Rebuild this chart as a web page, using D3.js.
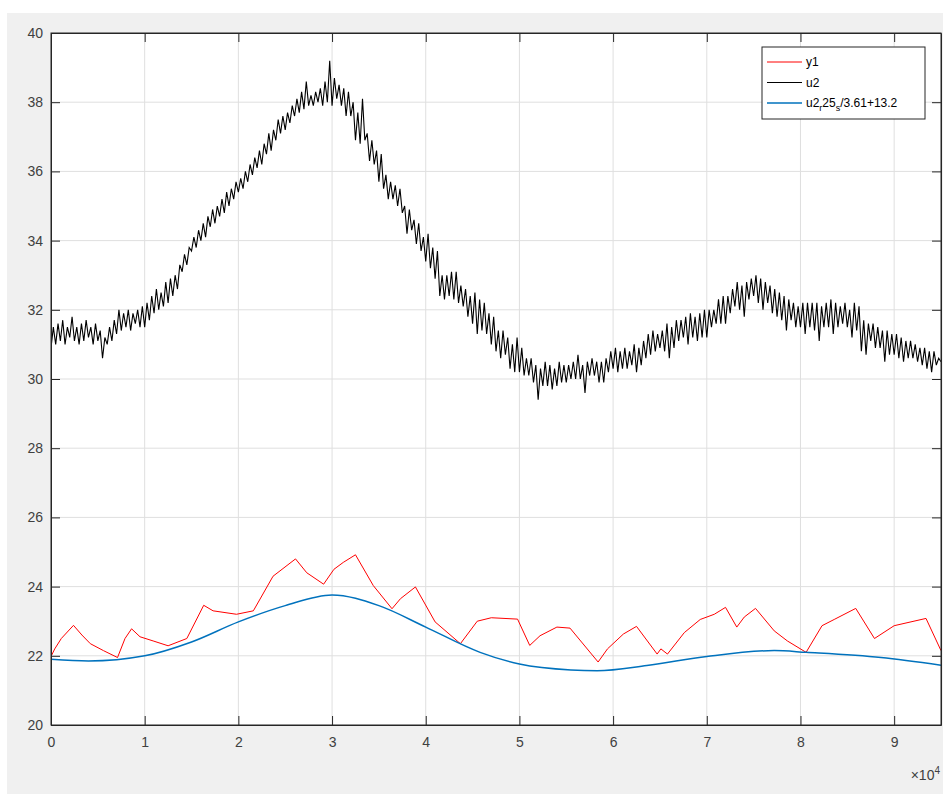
<html>
<head>
<meta charset="utf-8">
<script src="https://cdn.jsdelivr.net/npm/d3@7"></script>
<style>
  body { margin: 0; background: #fff; }
  text { font-family: "Liberation Sans", Arial, sans-serif; }
</style>
</head>
<body>
<div id="chart"></div>
<script>
// values, x in units of 1e4
// u2: one row per 0.1, samples every 0.025
var blackX0 = 0, blackStep = 0.025;
var blackY = [
  30.9, 31.5, 31.0, 31.6,  31.1, 31.7, 31.0, 31.5,  31.2, 31.8, 31.1, 31.5,  31.0, 31.6, 31.1, 31.7,
  31.2, 31.5, 31.0, 31.6,  31.1, 31.4, 30.6, 31.2,  31.0, 31.5, 31.1, 31.7,  31.3, 32.0, 31.4, 31.9,
  31.5, 32.0, 31.4, 31.9,  31.6, 32.0, 31.5, 32.1,
  31.5, 32.2, 31.7, 32.4,  31.9, 32.6, 32.0, 32.5,  32.1, 32.8, 32.2, 32.9,  32.4, 33.0, 32.6, 33.3,
  33.1, 33.6, 33.3, 33.8,  33.7, 34.1, 33.8, 34.3,  34.0, 34.5, 34.1, 34.7,  34.4, 34.9, 34.5, 35.0,
  34.7, 35.2, 34.8, 35.4,  35.0, 35.5, 35.2, 35.7,
  35.4, 35.8, 35.5, 36.0,  35.7, 36.2, 35.9, 36.4,  36.1, 36.6, 36.2, 36.8,  36.5, 37.1, 36.6, 37.2,
  36.9, 37.5, 37.1, 37.6,  37.2, 37.7, 37.4, 37.9,  37.6, 38.1, 37.7, 38.3,  37.8, 38.6, 37.9, 38.2,
  37.9, 38.3, 38.0, 38.4,  37.9, 38.6, 38.0, 39.2,
  37.9, 38.7, 38.1, 38.5,  37.9, 38.4, 37.6, 38.3,  37.6, 38.0, 36.9, 37.7,  36.8, 38.1, 36.9, 37.1,
  36.3, 36.9, 36.2, 36.6,  35.7, 36.5, 35.5, 35.9,  35.2, 35.7, 35.2, 35.6,  35.0, 35.5, 34.8, 35.0,
  34.2, 34.9, 34.3, 34.6,  33.9, 34.5, 33.7, 34.1,
  33.4, 34.2, 33.2, 33.8,  32.9, 33.7, 32.4, 33.0,  32.3, 33.0, 32.4, 33.1,  32.3, 33.1, 32.2, 32.7,
  32.1, 32.6, 31.8, 32.4,  31.6, 32.5, 31.3, 32.3,  31.4, 32.2, 31.3, 31.9,  31.0, 31.8, 30.8, 31.4,
  30.6, 31.4, 30.7, 31.2,  30.3, 31.0, 30.2, 31.2,
  30.2, 30.9, 30.1, 30.6,  30.1, 30.6, 29.9, 30.4,  29.4, 30.3, 29.8, 30.5,  29.8, 30.4, 29.7, 30.3,
  29.8, 30.5, 29.9, 30.4,  29.9, 30.4, 30.0, 30.5,  30.0, 30.7, 30.0, 30.4,  29.6, 30.5, 30.1, 30.6,
  30.1, 30.5, 29.9, 30.5,  29.9, 30.6, 30.2, 30.8,
  30.3, 30.9, 30.2, 30.8,  30.3, 30.9, 30.3, 30.8,  30.4, 31.0, 30.2, 30.9,  30.4, 31.1, 30.6, 31.3,
  30.7, 31.4, 30.8, 31.3,  30.9, 31.4, 30.8, 31.6,  30.6, 31.5, 30.9, 31.7,  31.1, 31.7, 31.2, 31.8,
  31.0, 31.9, 31.2, 31.8,  31.1, 31.9, 31.2, 32.0,
  31.2, 32.0, 31.5, 32.0,  31.6, 32.3, 31.6, 32.4,  31.6, 32.4, 31.9, 32.6,  32.1, 32.8, 32.0, 32.7,
  31.8, 32.8, 32.3, 32.9,  32.4, 33.0, 32.2, 32.9,  32.0, 32.8, 32.2, 32.7,  31.9, 32.6, 31.8, 32.5,
  31.7, 32.4, 31.4, 32.3,  31.7, 32.2, 31.5, 32.1,
  31.5, 32.2, 31.3, 32.2,  31.5, 32.2, 31.4, 32.2,  31.1, 32.1, 31.5, 32.2,  31.5, 32.3, 31.3, 32.2,
  31.5, 32.1, 31.6, 32.2,  31.5, 32.0, 31.2, 32.2,  31.4, 32.1, 30.8, 31.7,  30.7, 31.6, 31.1, 31.6,
  30.9, 31.5, 30.9, 31.4,  30.5, 31.4, 30.7, 31.3,
  30.7, 31.3, 30.6, 31.2,  30.5, 31.1, 30.6, 31.1,  30.6, 31.0, 30.5, 30.9,  30.4, 30.9, 30.3, 30.8,
  30.2, 30.8, 30.4, 30.6,  30.5
];

var redX = [0, 0.04, 0.11, 0.24, 0.33, 0.42, 0.56, 0.71, 0.79, 0.86, 0.95, 1.09, 1.25, 1.45, 1.63, 1.73,
  1.98, 2.16, 2.37, 2.61, 2.73, 2.91, 3.02, 3.12, 3.25, 3.44, 3.64, 3.73, 3.89, 4.1, 4.37, 4.55, 4.7,
  4.98, 5.11, 5.22, 5.4, 5.54, 5.84, 5.94, 6.11, 6.25, 6.47, 6.51, 6.58, 6.76, 6.93, 7.08, 7.2, 7.32,
  7.4, 7.52, 7.72, 7.86, 8.06, 8.23, 8.36, 8.59, 8.79, 9.0, 9.34, 9.5];
var redY = [21.98, 22.2, 22.5, 22.88, 22.6, 22.35, 22.15, 21.95, 22.5, 22.78, 22.55, 22.43, 22.29, 22.5, 23.46, 23.3,
  23.2, 23.3, 24.3, 24.8, 24.4, 24.07, 24.5, 24.7, 24.92, 24.03, 23.36, 23.65, 23.99, 22.98, 22.35, 23.0, 23.1,
  23.06, 22.3, 22.58, 22.83, 22.8, 21.82, 22.2, 22.63, 22.85, 22.05, 22.2, 22.05, 22.67, 23.05, 23.2, 23.4, 22.83,
  23.12, 23.37, 22.72, 22.43, 22.1, 22.87, 23.05, 23.37, 22.5, 22.87, 23.08, 22.15];

var blueX = [0, 0.4, 1.0, 1.5, 2.0, 2.5, 3.0, 3.5, 4.0, 4.58, 5.0, 5.55, 5.83, 6.36, 7.0, 7.72, 8.06, 8.86, 9.5];
var blueY = [21.9, 21.85, 22.0, 22.4, 22.98, 23.45, 23.76, 23.45, 22.83, 22.1, 21.76, 21.59, 21.57, 21.72, 21.98, 22.15, 22.1, 21.95, 21.73];

var xTicks = [0, 1, 2, 3, 4, 5, 6, 7, 8, 9];
var yTicks = [20, 22, 24, 26, 28, 30, 32, 34, 36, 38, 40];
var legendNames = ["y1", "u2", "u2_r25_s/3.61+13.2"];
var legendColors = ["#ff0000", "#000000", "#0072bd"];

var W = 943, H = 795;
var margin = {top: 33, left: 51};

var svg = d3.select("#chart").append("svg")
    .attr("width", W)
    .attr("height", H);

svg.append("rect")
    .attr("x", 7).attr("y", 13)
    .attr("width", W - 7).attr("height", 781)
    .attr("fill", "#f0f0f0");

var x = d3.scaleLinear().domain([0, 9.5]).range([0, 890]);
var y = d3.scaleLinear().domain([20, 40]).range([692, 0]);

var g = svg.append("g")
    .attr("transform", "translate(" + margin.left + "," + margin.top + ")");

g.append("rect")
    .attr("width", 890).attr("height", 692)
    .attr("fill", "#fff");

// grid
g.append("g").selectAll("line")
    .data(xTicks.slice(1)).enter().append("line")
    .attr("x1", d => x(d)).attr("x2", d => x(d))
    .attr("y1", 0).attr("y2", 692)
    .attr("stroke", "#dfdfdf");
g.append("g").selectAll("line")
    .data(yTicks.slice(1, -1)).enter().append("line")
    .attr("y1", d => y(d)).attr("y2", d => y(d))
    .attr("x1", 0).attr("x2", 890)
    .attr("stroke", "#dfdfdf");

// lines
var blackData = blackY.map((v, i) => [blackX0 + i * blackStep, v]);
var redData = redX.map((v, i) => [v, redY[i]]);
var blueData = blueX.map((v, i) => [v, blueY[i]]);

var line = d3.line().x(d => x(d[0])).y(d => y(d[1]));
g.append("clipPath").attr("id", "clip")
    .append("rect").attr("width", 890).attr("height", 692);

var lines = g.append("g").attr("clip-path", "url(#clip)");
lines.append("path").datum(blackData)
    .attr("d", line).attr("fill", "none")
    .attr("stroke", "#000").attr("stroke-width", 1.1);
lines.append("path").datum(redData)
    .attr("d", line).attr("fill", "none")
    .attr("stroke", "#ff0000").attr("stroke-width", 1);
lines.append("path").datum(blueData)
    .attr("d", line.curve(d3.curveMonotoneX)).attr("fill", "none")
    .attr("stroke", "#0072bd").attr("stroke-width", 1.5);

// axes (ticks inward, mirrored)
var axisColor = "#262626";
var xb = g.append("g").attr("transform", "translate(0,692)")
    .call(d3.axisBottom(x).tickValues(xTicks).tickSizeInner(-9).tickSizeOuter(0).tickPadding(12));
var xt = g.append("g")
    .call(d3.axisTop(x).tickValues(xTicks).tickSizeInner(-9).tickSizeOuter(0).tickFormat(""));
var yl = g.append("g")
    .call(d3.axisLeft(y).tickValues(yTicks).tickSizeInner(-9).tickSizeOuter(0).tickPadding(8));
var yr = g.append("g").attr("transform", "translate(890,0)")
    .call(d3.axisRight(y).tickValues(yTicks).tickSizeInner(-9).tickSizeOuter(0).tickFormat(""));

[xb, xt, yl, yr].forEach(function (a) {
    a.select(".domain").attr("stroke", axisColor);
    a.selectAll(".tick line").attr("stroke", axisColor);
    a.selectAll("text").attr("fill", "#404040").style("font-size", "14px")
        .style("font-family", "'Liberation Sans', Arial, sans-serif");
});
g.append("rect").attr("width", 890).attr("height", 692)
    .attr("fill", "none").attr("stroke", axisColor);

// exponent label
var ex = g.append("text")
    .attr("x", 889).attr("y", 747)
    .attr("text-anchor", "end")
    .attr("fill", "#404040")
    .style("font-size", "14px");
ex.append("tspan").text("\u00d710");
ex.append("tspan").attr("dy", -6).style("font-size", "10px").text("4");

// legend
var lg = g.append("g").attr("transform", "translate(711,14)");
lg.append("rect")
    .attr("width", 163).attr("height", 72)
    .attr("fill", "#fff").attr("stroke", "#262626");
legendNames.forEach(function (name, i) {
    var yy = 15 + i * 20.5;
    lg.append("line")
        .attr("x1", 5).attr("x2", 40)
        .attr("y1", yy).attr("y2", yy)
        .attr("stroke", legendColors[i]).attr("stroke-width", i == 2 ? 1.5 : 1);
    var t = lg.append("text")
        .attr("x", 44).attr("y", yy + 4)
        .attr("fill", "#000").style("font-size", "12px");
    // tex-style subscripts: name_x
    var parts = name.split("_");
    t.append("tspan").text(parts[0]);
    parts.slice(1).forEach(function (p) {
        t.append("tspan").attr("dy", 4).style("font-size", "9px").text(p[0]);
        t.append("tspan").attr("dy", -4).text(p.slice(1));
    });
});
</script>
</body>
</html>
